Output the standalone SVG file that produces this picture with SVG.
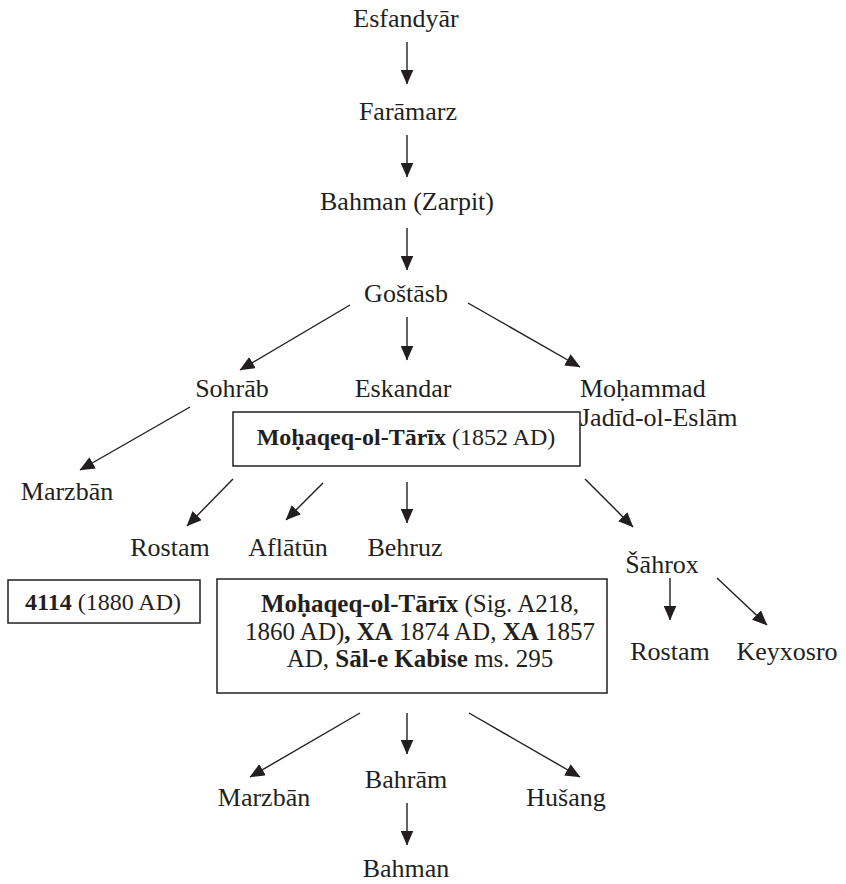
<svg xmlns="http://www.w3.org/2000/svg" width="846" height="884" viewBox="0 0 846 884">
<style>
text{font-family:"Liberation Serif","Times New Roman",serif;fill:#231f20;}
.n{font-size:26px;text-anchor:middle;}
.b{font-size:24px;text-anchor:middle;}
.bb{font-size:25px;text-anchor:middle;}
.bold{font-weight:bold;}
.box{fill:#fff;stroke:#231f20;stroke-width:1.5;}
#edges line{stroke:#231f20;stroke-width:1.4;marker-end:url(#ah);}
</style>
<defs>
<marker id="ah" markerWidth="15" markerHeight="13" refX="14.5" refY="6.5" orient="auto" markerUnits="userSpaceOnUse" viewBox="0 0 15 13">
<path d="M0,0 L15,6.5 L0,13 Z" fill="#231f20"/>
</marker>
</defs>
<rect width="846" height="884" fill="#fff"/>
<g id="edges">
<line x1="407" y1="42" x2="407" y2="84"/>
<line x1="407" y1="135" x2="407" y2="177"/>
<line x1="407" y1="228" x2="407" y2="270"/>
<line x1="350" y1="305" x2="240" y2="370"/>
<line x1="407" y1="317" x2="407" y2="360"/>
<line x1="468" y1="303" x2="580" y2="367"/>
<line x1="190" y1="407" x2="80" y2="470"/>
<line x1="233" y1="479" x2="187" y2="526"/>
<line x1="323" y1="483" x2="286" y2="520"/>
<line x1="407" y1="482" x2="407" y2="523"/>
<line x1="585" y1="479" x2="633" y2="527"/>
<line x1="670" y1="578" x2="670" y2="620"/>
<line x1="717" y1="578" x2="767" y2="625"/>
<line x1="360" y1="713" x2="250" y2="777"/>
<line x1="407" y1="713" x2="407" y2="754"/>
<line x1="469" y1="713" x2="580" y2="777"/>
<line x1="407" y1="803" x2="407" y2="845"/>
</g>
<g id="esfandyar"><text class="n" x="406" y="27">Esfandyār</text></g>
<g id="faramarz"><text class="n" x="408" y="120">Farāmarz</text></g>
<g id="bahman-zarpit"><text class="n" x="407" y="210">Bahman (Zarpit)</text></g>
<g id="gostasb"><text class="n" x="406" y="302">Goštāsb</text></g>
<g id="sohrab"><text class="n" x="232" y="397">Sohrāb</text></g>
<g id="eskandar"><text class="n" x="403" y="397">Eskandar</text></g>
<g id="mohammad"><text x="580" y="397" style="font-size:26px">Moḥammad</text><text x="580" y="426" style="font-size:26px">Jadīd-ol-Eslām</text></g>
<g id="box1"><rect class="box" x="233" y="412" width="347" height="54"/><text class="b" x="406" y="445"><tspan class="bold">Moḥaqeq-ol-Tārīx</tspan> (1852 AD)</text></g>
<g id="marzban1"><text class="n" x="67" y="500">Marzbān</text></g>
<g id="rostam1"><text class="n" x="170" y="556">Rostam</text></g>
<g id="aflatun"><text class="n" x="288" y="556">Aflātūn</text></g>
<g id="behruz"><text class="n" x="405" y="556">Behruz</text></g>
<g id="sahrox"><text class="n" x="662" y="573">Šāhrox</text></g>
<g id="box4114"><rect class="box" x="8" y="580" width="192" height="43"/><text class="b" x="103" y="610"><tspan class="bold">4114</tspan> (1880 AD)</text></g>
<g id="box2"><rect class="box" x="217" y="579" width="390" height="114"/>
<text class="bb" x="420" y="612"><tspan class="bold">Moḥaqeq-ol-Tārīx</tspan> (Sig. A218,</text>
<text class="bb" x="420" y="640">1860 AD)<tspan class="bold">, XA</tspan> 1874 AD, <tspan class="bold">XA</tspan> 1857</text>
<text class="bb" x="420" y="667">AD, <tspan class="bold">Sāl-e Kabise</tspan> ms. 295</text></g>
<g id="rostam2"><text class="n" x="670" y="660">Rostam</text></g>
<g id="keyxosro"><text class="n" x="787" y="660">Keyxosro</text></g>
<g id="marzban2"><text class="n" x="264" y="806">Marzbān</text></g>
<g id="bahram"><text class="n" x="406" y="788">Bahrām</text></g>
<g id="husang"><text class="n" x="566" y="806">Hušang</text></g>
<g id="bahman"><text class="n" x="406" y="877">Bahman</text></g>
</svg>
